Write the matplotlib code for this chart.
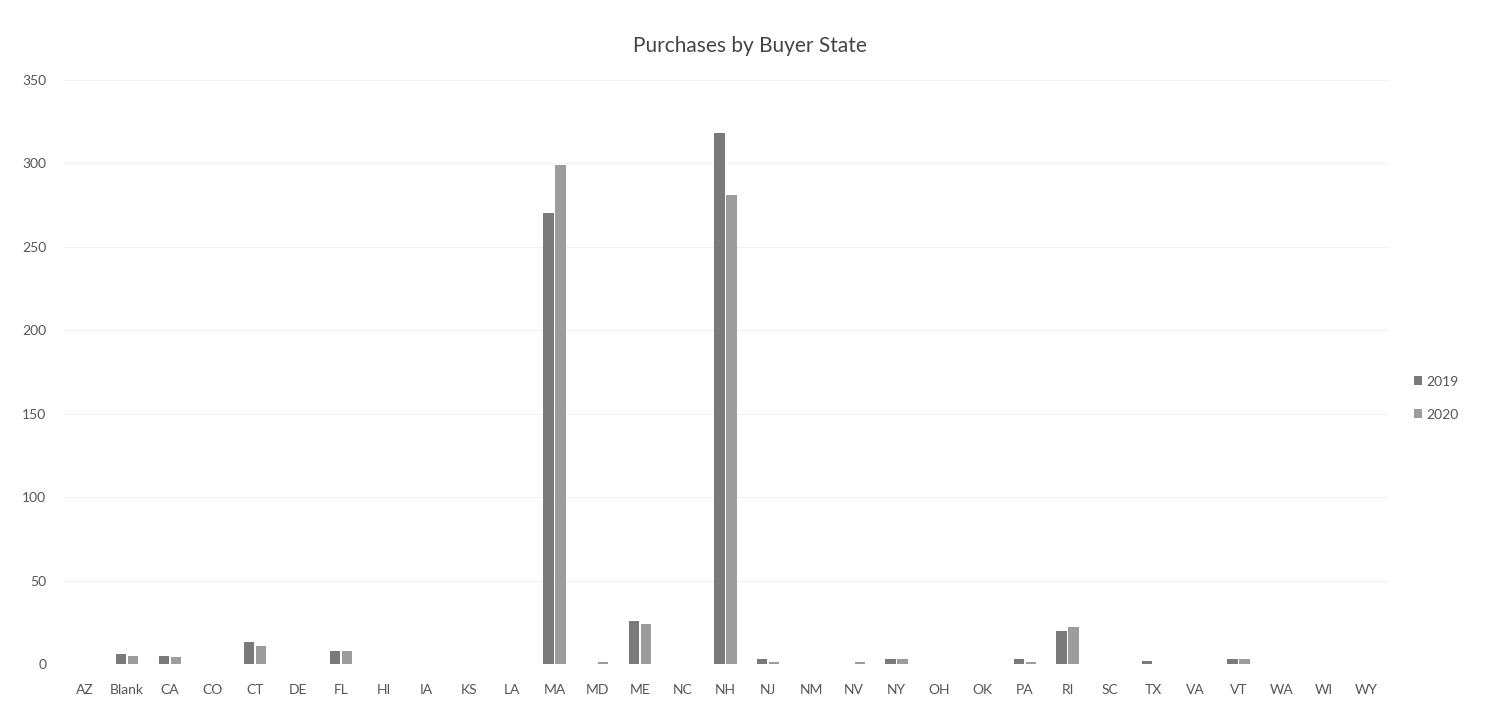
import matplotlib
matplotlib.use("Agg")
import matplotlib.pyplot as plt
import numpy as np

states = ["AZ", "Blank", "CA", "CO", "CT", "DE", "FL", "HI", "IA", "KS", "LA",
          "MA", "MD", "ME", "NC", "NH", "NJ", "NM", "NV", "NY", "OH", "OK",
          "PA", "RI", "SC", "TX", "VA", "VT", "WA", "WI", "WY"]
purchases_2019 = [0, 6, 5, 0, 13, 0, 8, 0, 0, 0, 0,
                  270, 0, 26, 0, 318, 3, 0, 0, 3, 0, 0,
                  3, 20, 0, 2, 0, 3, 0, 0, 0]
purchases_2020 = [0, 5, 4, 0, 11, 0, 8, 0, 0, 0, 0,
                  299, 1, 24, 0, 281, 1, 0, 1, 3, 0, 0,
                  1, 22, 0, 0, 0, 3, 0, 0, 0]
years = ["2019", "2020"]
colors = ["#7a7a7a", "#9c9c9c"]

plt.rcParams["font.family"] = ["Lato", "DejaVu Sans"]

fig = plt.figure(figsize=(14.99, 7.11), dpi=100)
ax = fig.add_axes([0.042, 0.066, 0.884, 0.822])

x = np.arange(len(states))
w = 0.24
for i, (vals, year, c) in enumerate(zip([purchases_2019, purchases_2020], years, colors)):
    xs = x + (i - 0.5) * 0.28
    heights = np.array(vals, dtype=float)
    mask = heights > 0
    ax.bar(xs[mask], heights[mask], width=w, color=c, label=year)

ax.set_xlim(-0.5, len(states) - 0.5)
ax.set_ylim(0, 350)
ax.set_yticks(range(0, 351, 50))
ax.set_xticks(x)
ax.set_xticklabels(states)
ax.tick_params(axis="both", length=0, labelsize=10, colors="#555555")
ax.tick_params(axis="x", pad=14)
ax.tick_params(axis="y", pad=12)
ax.grid(axis="y", color="#f2f2f2", linewidth=0.8)
ax.set_axisbelow(True)
for s in ax.spines.values():
    s.set_visible(False)

fig.text(0.5, 0.935, "Purchases by Buyer State", ha="center", va="center",
         fontsize=15, color="#444444")

fig.legend(loc="center left", bbox_to_anchor=(0.935, 0.44), frameon=False,
           handlelength=0.6, handleheight=0.6, handletextpad=0.3,
           labelspacing=1.5, fontsize=10, labelcolor="#555555")

fig.savefig("out.png", dpi=100, facecolor="white")
